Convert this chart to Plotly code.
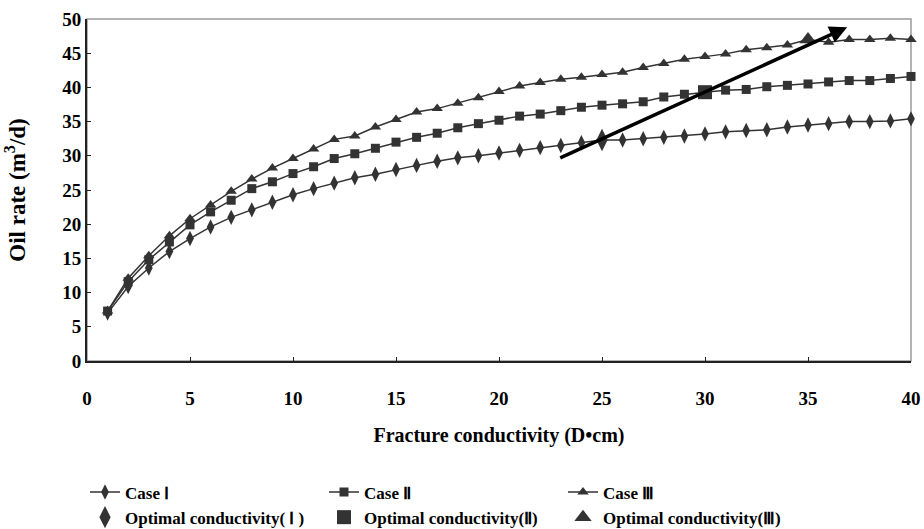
import plotly.graph_objects as go

conductivity = list(range(1, 41))
case1 = [7.0, 10.9, 13.6, 16.0, 17.9, 19.6, 21.0, 22.1, 23.2, 24.3,
         25.2, 26.0, 26.8, 27.3, 28.0, 28.6, 29.2, 29.7, 30.0, 30.4,
         30.8, 31.2, 31.5, 31.9, 32.3, 32.3, 32.5, 32.7, 32.9, 33.2,
         33.5, 33.7, 33.8, 34.2, 34.5, 34.7, 35.0, 35.0, 35.1, 35.4]
case2 = [7.3, 11.6, 14.8, 17.4, 19.9, 21.8, 23.5, 25.2, 26.2, 27.4,
         28.4, 29.6, 30.3, 31.1, 32.0, 32.7, 33.3, 34.1, 34.7, 35.2,
         35.8, 36.1, 36.6, 37.1, 37.4, 37.6, 37.9, 38.6, 39.0, 39.3,
         39.6, 39.7, 40.1, 40.3, 40.5, 40.8, 41.0, 41.0, 41.3, 41.6]
case3 = [7.3, 12.1, 15.4, 18.3, 20.8, 22.8, 24.8, 26.6, 28.2, 29.6,
         31.0, 32.4, 32.9, 34.2, 35.3, 36.4, 36.9, 37.7, 38.5, 39.4,
         40.2, 40.7, 41.2, 41.5, 41.9, 42.2, 42.9, 43.5, 44.1, 44.5,
         44.9, 45.5, 45.8, 46.2, 47.0, 46.6, 47.0, 47.0, 47.2, 47.0]
opt_x = [25, 30, 35]
opt_y = [32.3, 39.3, 47.0]
arrow_start = (22.9, 29.6)
arrow_end = (36.9, 48.8)

xticks = [0, 5, 10, 15, 20, 25, 30, 35, 40]
yticks = [0, 5, 10, 15, 20, 25, 30, 35, 40, 45, 50]

C = "#333333"
FONT = "Liberation Serif"

fig = go.Figure()
series = [("Case Ⅰ", case1, "diamond-tall", 11),
          ("Case Ⅱ", case2, "square", 9),
          ("Case Ⅲ", case3, "triangle-up", 10)]
for name, ys, sym, sz in series:
    fig.add_trace(go.Scatter(
        x=conductivity, y=ys, mode="lines+markers", name=name,
        line=dict(color=C, width=1.5),
        marker=dict(symbol=sym, size=sz, color=C),
        cliponaxis=False))
opt_names = ["Optimal conductivity( Ⅰ )", "Optimal conductivity(Ⅱ)", "Optimal conductivity(Ⅲ)"]
opt_syms = ["diamond-tall", "square", "triangle-up"]
opt_sizes = [16, 14, 15]
for i in range(3):
    fig.add_trace(go.Scatter(
        x=[opt_x[i]], y=[opt_y[i]], mode="markers", name=opt_names[i],
        marker=dict(symbol=opt_syms[i], size=opt_sizes[i], color=C),
        cliponaxis=False))

fig.add_annotation(
    x=arrow_end[0], y=arrow_end[1], ax=arrow_start[0], ay=arrow_start[1],
    xref="x", yref="y", axref="x", ayref="y", text="",
    showarrow=True, arrowhead=2, arrowsize=1, arrowwidth=3.5, arrowcolor="black")

# frame: gray top/right border
fig.add_shape(type="rect", xref="paper", yref="paper", x0=0, y0=0, x1=1, y1=1,
              line=dict(color="#9a9a9a", width=1.5), layer="below")

fig.update_layout(
    width=924, height=529,
    margin=dict(l=87, r=13, t=19, b=168, autoexpand=False),
    paper_bgcolor="white", plot_bgcolor="white",
    font=dict(family=FONT, color="black", size=18),
    showlegend=True,
    legend=dict(orientation="h", xref="container", yref="container",
                x=0.092, y=0.103, xanchor="left", yanchor="top",
                entrywidth=194, entrywidthmode="pixels", tracegroupgap=0,
                font=dict(family=FONT, size=17, weight="bold"), itemwidth=30),
    xaxis=dict(range=[0, 40], tickvals=xticks, showgrid=False, zeroline=False,
               showline=True, linecolor="#222222", linewidth=2,
               ticks="inside", ticklen=4, tickcolor="#222222",
               ticklabelstandoff=19, automargin=False,
               tickfont=dict(family=FONT, size=19, weight="bold"),
               title=dict(text="Fracture conductivity (D•cm)", standoff=20,
                          font=dict(family=FONT, size=20, weight="bold"))),
    yaxis=dict(range=[0, 50], tickvals=yticks, showgrid=False, zeroline=False,
               showline=True, linecolor="#222222", linewidth=2,
               ticks="inside", ticklen=4, tickcolor="#222222",
               ticklabelstandoff=0, automargin=False,
               tickfont=dict(family=FONT, size=19, weight="bold"),
               title=dict(text="Oil rate (m<sup>3</sup>/d)", standoff=30,
                          font=dict(family=FONT, size=23, weight="bold"))),
)

fig.write_html("out.html")
